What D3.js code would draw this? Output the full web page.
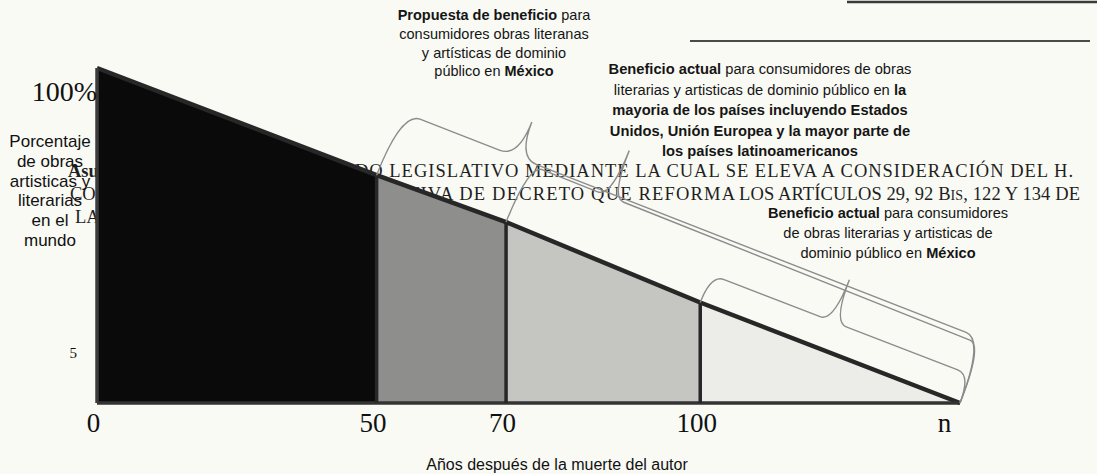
<!DOCTYPE html>
<html>
<head>
<meta charset="utf-8">
<script src="https://cdn.jsdelivr.net/npm/d3@7"></script>
<style>
  html, body { margin: 0; padding: 0; background: #f9faf4; }
  svg { display: block; }
</style>
</head>
<body>
<svg id="chart"></svg>
<script>
// years after the author's death, the last one stands for "n"
const years = [0, 50, 70, 100, 140];
const yearLabels = ['0', '50', '70', '100', 'n'];
// share of works still protected at each boundary (%)
const sharePct = [100, 68, 54, 30, 0];
const yTickValues = [100, 15];
const yTickLabels = ['100%', '5'];
// each brace runs from this year to "n"
const braceStarts = [50, 70, 100];

const yTitle = ['Porcentaje', 'de obras', 'artisticas y', 'literarias', 'en el', 'mundo'];
const xTitle = 'Años después de la muerte del autor';

// annotation lines: [text, bold]
const notePropuesta = [
  [['Propuesta de beneficio', 1], [' para', 0]],
  [['consumidores obras literanas', 0]],
  [['y artísticas de dominio', 0]],
  [['público en ', 0], ['México', 1]]
];
const noteMayoria = [
  [['Beneficio actual', 1], [' para consumidores de obras', 0]],
  [['literarias y artisticas de dominio público en ', 0], ['la', 1]],
  [['mayoria de los países incluyendo Estados', 1]],
  [['Unidos, Unión Europea y la mayor parte de', 1]],
  [['los países latinoamericanos', 1]]
];
const noteMexico = [
  [['Beneficio actual', 1], [' para consumidores', 0]],
  [['de obras literarias y artisticas de', 0]],
  [['dominio público en ', 0], ['México', 1]]
];

// text of the scanned page behind the chart
const pageText = [
  'PUNTO DE ACUER',
  'DO LEGISLATIVO MEDIANTE LA CUAL SE ELEVA A CONSIDERACIÓN DEL H.',
  'CONGRESO DE LA UNIÓN LA INICIA',
  'TIVA DE DECRETO QUE REFORMA',
  'LOS ARTÍCULOS 29, 92 B',
  'IS',
  ', 122 Y 134 DE',
  'LA LEY FEDERAL DEL DERECHO'
];

const W = 1097, H = 474;
const margin = { top: 68, right: 137, bottom: 71, left: 97 };
const width = W - margin.left - margin.right;
const height = H - margin.top - margin.bottom;

const sans = "'Liberation Sans', Arial, sans-serif";
const serif = "'Liberation Serif', 'Times New Roman', serif";
const segFill = ['#0a0a0a', '#8e8e8d', '#c5c5c2', '#ecece8'];
const ink = '#272727';

const svg = d3.select('#chart')
  .attr('width', W)
  .attr('height', H);

svg.append('rect')
  .attr('width', W).attr('height', H)
  .attr('fill', '#f9faf4');

// rules of the scanned page
svg.append('line')
  .attr('x1', 847).attr('x2', W).attr('y1', 2).attr('y2', 2)
  .attr('stroke', '#3a3a3a').attr('stroke-width', 2.5);
svg.append('line')
  .attr('x1', 690).attr('x2', 1090).attr('y1', 41).attr('y2', 41)
  .attr('stroke', '#4a4a4a').attr('stroke-width', 2);

// page text (sits behind the chart)
const page = svg.append('g')
  .style('font-family', serif)
  .style('font-size', '18.5px')
  .attr('fill', '#1f1f1f');

const l1 = page.append('text').attr('x', 68).attr('y', 177);
l1.append('tspan').style('font-weight', 'bold').text('Asunto: ');
l1.append('tspan').text(pageText[0]);
page.append('text')
  .attr('x', 355).attr('y', 177)
  .attr('textLength', 718).attr('lengthAdjust', 'spacing')
  .text(pageText[1]);
page.append('text').attr('x', 70).attr('y', 200).text(pageText[2]);
page.append('text')
  .attr('x', 408).attr('y', 200)
  .attr('textLength', 327).attr('lengthAdjust', 'spacing')
  .text(pageText[3]);
const l2b = page.append('text')
  .attr('x', 739).attr('y', 200)
  .attr('textLength', 341).attr('lengthAdjust', 'spacing');
l2b.append('tspan').text(pageText[4]);
l2b.append('tspan').style('font-size', '14px').text(pageText[5]);
l2b.append('tspan').text(pageText[6]);
page.append('text').attr('x', 75).attr('y', 223).text(pageText[7]);

const g = svg.append('g')
  .attr('transform', `translate(${margin.left},${margin.top})`);

// x is schematic in the original, so it is piecewise linear
const x = d3.scaleLinear()
  .domain(years)
  .range([0, 0.324, 0.474, 0.699, 1].map(f => f * width));
const y = d3.scaleLinear()
  .domain([0, 100])
  .range([height, 0]);

const pts = years.map((d, i) => ({ yr: d, pct: sharePct[i] }));

const area = d3.area()
  .x(d => x(d.yr))
  .y0(y(0))
  .y1(d => y(d.pct));

// shaded segments
d3.pairs(pts).forEach((pair, i) => {
  g.append('path')
    .attr('d', area(pair))
    .attr('fill', segFill[i]);
});

// outline
g.append('path')
  .attr('d', d3.line().x(d => x(d.yr)).y(d => y(d.pct))(pts))
  .attr('fill', 'none')
  .attr('stroke', ink)
  .attr('stroke-width', 4.5)
  .attr('stroke-linejoin', 'round');
g.append('line')
  .attr('x1', x(0)).attr('x2', x(years[4]))
  .attr('y1', y(0)).attr('y2', y(0))
  .attr('stroke', '#333').attr('stroke-width', 3.5);
g.append('line')
  .attr('x1', x(0)).attr('x2', x(0))
  .attr('y1', y(0)).attr('y2', y(100))
  .attr('stroke', '#3c3c3c').attr('stroke-width', 3.5);
g.selectAll('.divider')
  .data(pts.slice(1, 4))
  .enter()
  .append('line')
  .attr('class', 'divider')
  .attr('x1', d => x(d.yr)).attr('x2', d => x(d.yr))
  .attr('y1', y(0)).attr('y2', d => y(d.pct))
  .attr('stroke', ink).attr('stroke-width', 3.5);

// braces from each start year to "n"
function bracePath(L, a, s, t, r) {
  const c = L * t;
  return `M0,0 C0,${-a * 0.7} ${r * 0.4},${-a} ${r},${-a}` +
    ` L${c - r},${-a} Q${c},${-a} ${c},${-a - s}` +
    ` Q${c},${-a} ${c + r},${-a} L${L - r},${-a}` +
    ` C${L - r * 0.4},${-a} ${L},${-a * 0.7} ${L},0`;
}
const braceStyle = [
  { a: 68, s: 38, t: 0.2, r: 20 },
  { a: 62, s: 50, t: 0.18, r: 14 },
  { a: 30, s: 45, t: 0.47, r: 14 }
];
braceStarts.forEach((yr, i) => {
  const k = years.indexOf(yr);
  const x0 = x(yr), y0 = y(sharePct[k]);
  const x1 = x(years[4]), y1 = y(0);
  const L = Math.hypot(x1 - x0, y1 - y0);
  const ang = Math.atan2(y1 - y0, x1 - x0) * 180 / Math.PI;
  const st = braceStyle[i];
  g.append('path')
    .attr('transform', `translate(${x0},${y0}) rotate(${ang})`)
    .attr('d', bracePath(L, st.a, st.s, st.t, st.r))
    .attr('fill', 'none')
    .attr('stroke', '#8c8c8c')
    .attr('stroke-width', 1.4);
});

// axes
const xAxis = g.append('g')
  .attr('transform', `translate(0,${height})`)
  .call(d3.axisBottom(x)
    .tickValues(years)
    .tickFormat((d, i) => yearLabels[i])
    .tickSize(0)
    .tickPadding(10));
xAxis.select('.domain').remove();
xAxis.selectAll('text')
  .attr('dx', (d, i) => i === 4 ? -16 : -4)
  .style('font-family', serif)
  .style('font-size', '27px')
  .attr('fill', '#111');

const yAxis = g.append('g')
  .call(d3.axisLeft(y)
    .tickValues(yTickValues)
    .tickFormat((d, i) => yTickLabels[i])
    .tickSize(0)
    .tickPadding(0));
yAxis.select('.domain').remove();
yAxis.selectAll('text')
  .style('font-family', serif)
  .attr('fill', '#111')
  .style('font-size', (d, i) => i === 0 ? '28px' : '15px')
  .attr('dy', (d, i) => i === 0 ? 32 : 5)
  .attr('x', (d, i) => i === 0 ? 0 : -20);

// axis titles
svg.append('text')
  .attr('x', 557).attr('y', 470)
  .attr('text-anchor', 'middle')
  .style('font-family', sans).style('font-size', '16px')
  .attr('fill', '#111')
  .text(xTitle);

svg.append('g')
  .selectAll('text')
  .data(yTitle)
  .enter()
  .append('text')
  .attr('x', 50)
  .attr('y', (d, i) => 147 + i * 19.8)
  .attr('text-anchor', 'middle')
  .style('font-family', sans).style('font-size', '17px')
  .attr('fill', '#111')
  .text(d => d);

// annotations
function note(lines, cx, y0, lh, size) {
  const t = svg.append('g');
  lines.forEach((parts, i) => {
    const txt = t.append('text')
      .attr('x', cx).attr('y', y0 + i * lh)
      .attr('text-anchor', 'middle')
      .style('font-family', sans).style('font-size', size + 'px')
      .attr('fill', '#151515');
    parts.forEach(p => {
      txt.append('tspan')
        .style('font-weight', p[1] ? 'bold' : 'normal')
        .text(p[0]);
    });
  });
}
note(notePropuesta, 494, 20, 18.8, 14.5);
note(noteMayoria, 760, 74, 20.5, 14.7);
note(noteMexico, 888, 218, 20, 14.6);
</script>
</body>
</html>
